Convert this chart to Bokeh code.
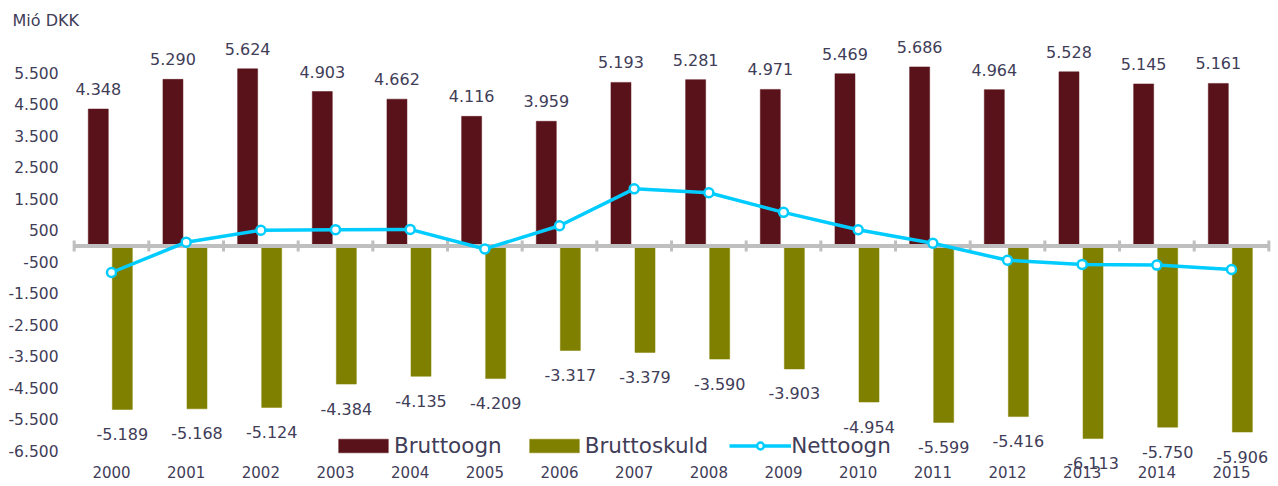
from bokeh.plotting import figure
from bokeh.models import Range1d, FixedTicker, Legend, LegendItem, ColumnDataSource
from bokeh.embed import file_html
from bokeh.resources import INLINE
from bokeh.core.properties import value

years = ["2000", "2001", "2002", "2003", "2004", "2005", "2006", "2007",
         "2008", "2009", "2010", "2011", "2012", "2013", "2014", "2015"]
bruttoogn = [4348, 5290, 5624, 4903, 4662, 4116, 3959, 5193,
             5281, 4971, 5469, 5686, 4964, 5528, 5145, 5161]
bruttoskuld = [-5189, -5168, -5124, -4384, -4135, -4209, -3317, -3379,
               -3590, -3903, -4954, -5599, -5416, -6113, -5750, -5906]
nettoogn = [-841, 122, 500, 519, 527, -93, 642, 1814,
            1691, 1068, 515, 87, -452, -585, -605, -745]
y_ticks = [5500, 4500, 3500, 2500, 1500, 500, -500, -1500,
           -2500, -3500, -4500, -5500, -6500]
y_tick_labels = ["5.500", "4.500", "3.500", "2.500", "1.500", "500", "-500", "-1.500",
                 "-2.500", "-3.500", "-4.500", "-5.500", "-6.500"]
title_text = "Mió DKK"

COL_OGN = "#5a121a"
COL_SKULD = "#808000"
COL_NET = "#00ccff"
COL_TXT = "#3f3d58"
COL_AXIS = "#bfbfbf"
FONT = "DejaVu Sans"


def fmt(v):
    return f"{v:,}".replace(",", ".")


idx = list(range(len(years)))
src = ColumnDataSource(dict(
    x=idx,
    x_ogn=[i - 0.177 for i in idx],
    x_skuld=[i + 0.145 for i in idx],
    ogn=bruttoogn,
    skuld=bruttoskuld,
    net=nettoogn,
    ogn_lbl=[fmt(v) for v in bruttoogn],
    skuld_lbl=[fmt(v) for v in bruttoskuld],
))

p = figure(width=1278, height=486, output_backend="svg", toolbar_location=None,
           x_range=Range1d(-0.5893, 15.629), y_range=Range1d(-7571, 6746),
           min_border_left=67, min_border_right=0, min_border_top=33, min_border_bottom=2)
p.outline_line_color = None
p.xgrid.visible = False
p.ygrid.visible = False
p.background_fill_color = "white"

# title
p.title.text = title_text
p.title.align = "left"
p.title.offset = -55
p.title.standoff = 8
p.title.text_font = FONT
p.title.text_font_size = "16px"
p.title.text_font_style = "normal"
p.title.text_color = COL_TXT

# axes
p.yaxis.ticker = FixedTicker(ticks=y_ticks)
p.yaxis.major_label_overrides = {t: s for t, s in zip(y_ticks, y_tick_labels)}
p.yaxis.axis_line_color = None
p.yaxis.major_tick_line_color = None
p.yaxis.minor_tick_line_color = None
p.yaxis.major_tick_out = 0
p.yaxis.major_tick_in = 0
p.yaxis.major_label_standoff = 9
p.yaxis.major_label_text_font = FONT
p.yaxis.major_label_text_font_size = "15.5px"
p.yaxis.major_label_text_color = COL_TXT

p.xaxis.ticker = FixedTicker(ticks=idx)
p.xaxis.major_label_overrides = {i: y for i, y in zip(idx, years)}
p.xaxis.axis_line_color = None
p.xaxis.major_tick_line_color = None
p.xaxis.minor_tick_line_color = None
p.xaxis.major_tick_out = 0
p.xaxis.major_tick_in = 0
p.xaxis.major_label_standoff = -19
p.xaxis.major_label_text_font = FONT
p.xaxis.major_label_text_font_size = "15px"
p.xaxis.major_label_text_color = COL_TXT

# bars
r_ogn = p.vbar(x="x_ogn", top="ogn", bottom=0, width=0.268, source=src,
               fill_color=COL_OGN, line_color=COL_OGN, line_width=0.5)
r_skuld = p.vbar(x="x_skuld", top="skuld", bottom=0, width=0.268, source=src,
                 fill_color=COL_SKULD, line_color=COL_SKULD, line_width=0.5)

# zero axis line with category boundary ticks
n = len(years)
p.segment(x0=[-0.5], x1=[n - 0.5], y0=[0], y1=[0], line_color=COL_AXIS, line_width=4)
p.scatter(x=[i - 0.5 for i in range(n + 1)], y=[0] * (n + 1), marker="dash", angle=1.5708,
          size=11, line_color=COL_AXIS, line_width=3)

# net line
r_line = p.line(x="x", y="net", source=src, line_color=COL_NET, line_width=3.5)
r_pts = p.scatter(x="x", y="net", source=src, size=9, fill_color="white",
                  line_color=COL_NET, line_width=2.5)

# data labels
p.text(x="x_ogn", y="ogn", text="ogn_lbl", source=src, y_offset=-20,
       text_align="center", text_baseline="middle", text_font=value(FONT),
       text_font_size="16px", text_color=COL_TXT)
p.text(x="x_skuld", y="skuld", text="skuld_lbl", source=src, y_offset=24.5,
       text_align="center", text_baseline="middle", text_font=value(FONT),
       text_font_size="16px", text_color=COL_TXT)

legend = Legend(items=[
    LegendItem(label="Bruttoogn", renderers=[r_ogn]),
    LegendItem(label="Bruttoskuld", renderers=[r_skuld]),
    LegendItem(label="Nettoogn", renderers=[r_line, r_pts]),
], location=(265, 26.5), orientation="horizontal",
    glyph_width=62, glyph_height=17, label_standoff=0, spacing=21,
    padding=0, margin=0, border_line_color=None, background_fill_alpha=0,
    label_text_font=FONT, label_text_font_size="21.5px", label_text_color=COL_TXT)
p.add_layout(legend, "center")

open("out.html", "w").write(file_html(p, INLINE))
